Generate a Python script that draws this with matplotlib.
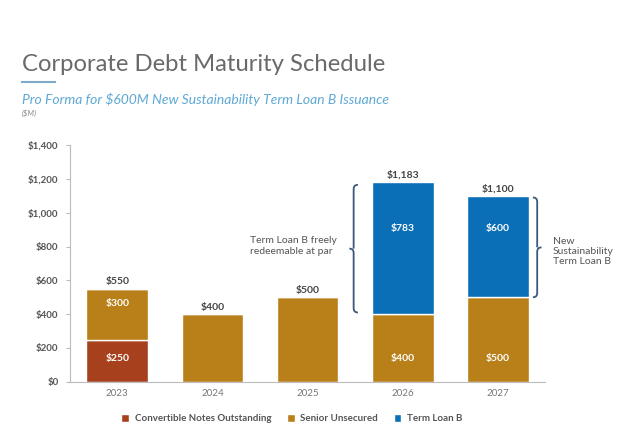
import numpy as np
import matplotlib
matplotlib.use('Agg')
import matplotlib.pyplot as plt
from matplotlib.path import Path
from matplotlib.patches import PathPatch

years = ['2023', '2024', '2025', '2026', '2027']
convertible = [250, 0, 0, 0, 0]
senior = [300, 400, 500, 400, 500]
term_loan = [0, 0, 0, 783, 600]
totals = ['$550', '$400', '$500', '$1,183', '$1,100']
yticks = [0, 200, 400, 600, 800, 1000, 1200, 1400]

c_conv = '#a7411d'
c_senior = '#b98019'
c_tlb = '#0b6fb8'

plt.rcParams['font.family'] = ['Lato', 'DejaVu Sans']

fig = plt.figure(figsize=(6.4, 4.45), dpi=100)
ax = fig.add_axes([0.109, 0.142, 0.743, 0.532])

x = np.arange(len(years))
w = 0.65
conv = np.array(convertible)
sen = np.array(senior)
tlb = np.array(term_loan)
ax.bar(x, conv, w, color=c_conv, edgecolor='white', linewidth=1, label='Convertible Notes Outstanding')
ax.bar(x, sen, w, bottom=conv, color=c_senior, edgecolor='white', linewidth=1, label='Senior Unsecured')
ax.bar(x, tlb, w, bottom=conv + sen, color=c_tlb, edgecolor='white', linewidth=1, label='Term Loan B')

# segment labels (only on stacked bars)
lab = dict(ha='center', va='center', color='white', fontsize=7.5, fontweight='bold')
for i in range(len(years)):
    if conv[i] and sen[i]:
        ax.text(x[i], 140, f'${conv[i]}', **lab)
        ax.text(x[i], conv[i] + sen[i] - 85, f'${sen[i]}', **lab)
    if tlb[i]:
        ax.text(x[i], 140, f'${sen[i]}', **lab)
        ax.text(x[i], 905, f'${tlb[i]}', **lab)
    top = conv[i] + sen[i] + tlb[i]
    ax.text(x[i], top + 15, totals[i], ha='center', va='bottom', color='#444444', fontsize=7.5, fontweight='bold')

ax.set_xlim(-0.5, 4.5)
ax.set_ylim(0, 1400)
ax.set_yticks(yticks)
ax.set_yticklabels([f'${v:,}' for v in yticks], fontsize=7, color='#555555', fontweight='bold')
ax.set_xticks(x)
ax.set_xticklabels(years, fontsize=7, color='#777777')
ax.tick_params(axis='y', length=3, color='#bbbbbb', pad=5)
ax.tick_params(axis='x', length=0, pad=5)
for s in ['top', 'right']:
    ax.spines[s].set_visible(False)
ax.spines['left'].set_color('#bbbbbb')
ax.spines['bottom'].set_color('#bbbbbb')


def brace(ax, xb, y0, y1, depth, side):
    # side=-1 points left, +1 points right
    ym = (y0 + y1) / 2
    d = depth * side
    h = 25
    verts = [(xb, y0), (xb + d / 2, y0), (xb + d / 2, y0 + h), (xb + d / 2, ym - h),
             (xb + d / 2, ym), (xb + d, ym),
             (xb + d / 2, ym), (xb + d / 2, ym + h), (xb + d / 2, y1 - h),
             (xb + d / 2, y1), (xb, y1)]
    codes = [Path.MOVETO, Path.CURVE3, Path.CURVE3, Path.LINETO,
             Path.CURVE3, Path.CURVE3,
             Path.MOVETO, Path.CURVE3, Path.LINETO,
             Path.CURVE3, Path.CURVE3]
    ax.add_patch(PathPatch(Path(verts, codes), fill=False, edgecolor='#3b5878', linewidth=1.3, clip_on=False))


brace(ax, 2.53, 410, 1165, 0.09, -1)
brace(ax, 4.37, 500, 1090, 0.09, 1)

ax.text(1.39, 803, 'Term Loan B freely\nredeemable at par', ha='left', va='center', fontsize=7.5, color='#555555', linespacing=1.2)
ax.text(4.58, 768, 'New\nSustainability\nTerm Loan B', ha='left', va='center', fontsize=7.5, color='#555555', linespacing=1.15)

ax.legend(loc='upper center', bbox_to_anchor=(0.467, -0.1), ncol=3, frameon=False,
          handlelength=0.8, handleheight=0.8, columnspacing=1.6, handletextpad=0.6, labelcolor='#555555',
          prop={'weight': 'bold', 'size': 7})

fig.text(0.034, 0.856, 'Corporate Debt Maturity Schedule', fontsize=17.2, color='#6a6a6a', va='center')
fig.add_artist(plt.Line2D([0.034, 0.086], [0.816, 0.816], color='#7fa9c9', linewidth=1.5))
fig.text(0.034, 0.777, 'Pro Forma for $600M New Sustainability Term Loan B Issuance', fontsize=10,
         color='#5ea9d6', style='italic', va='center')
fig.text(0.034, 0.745, '($M)', fontsize=5.5, color='#888888', style='italic', va='center')

fig.savefig('out.png', dpi=100)
